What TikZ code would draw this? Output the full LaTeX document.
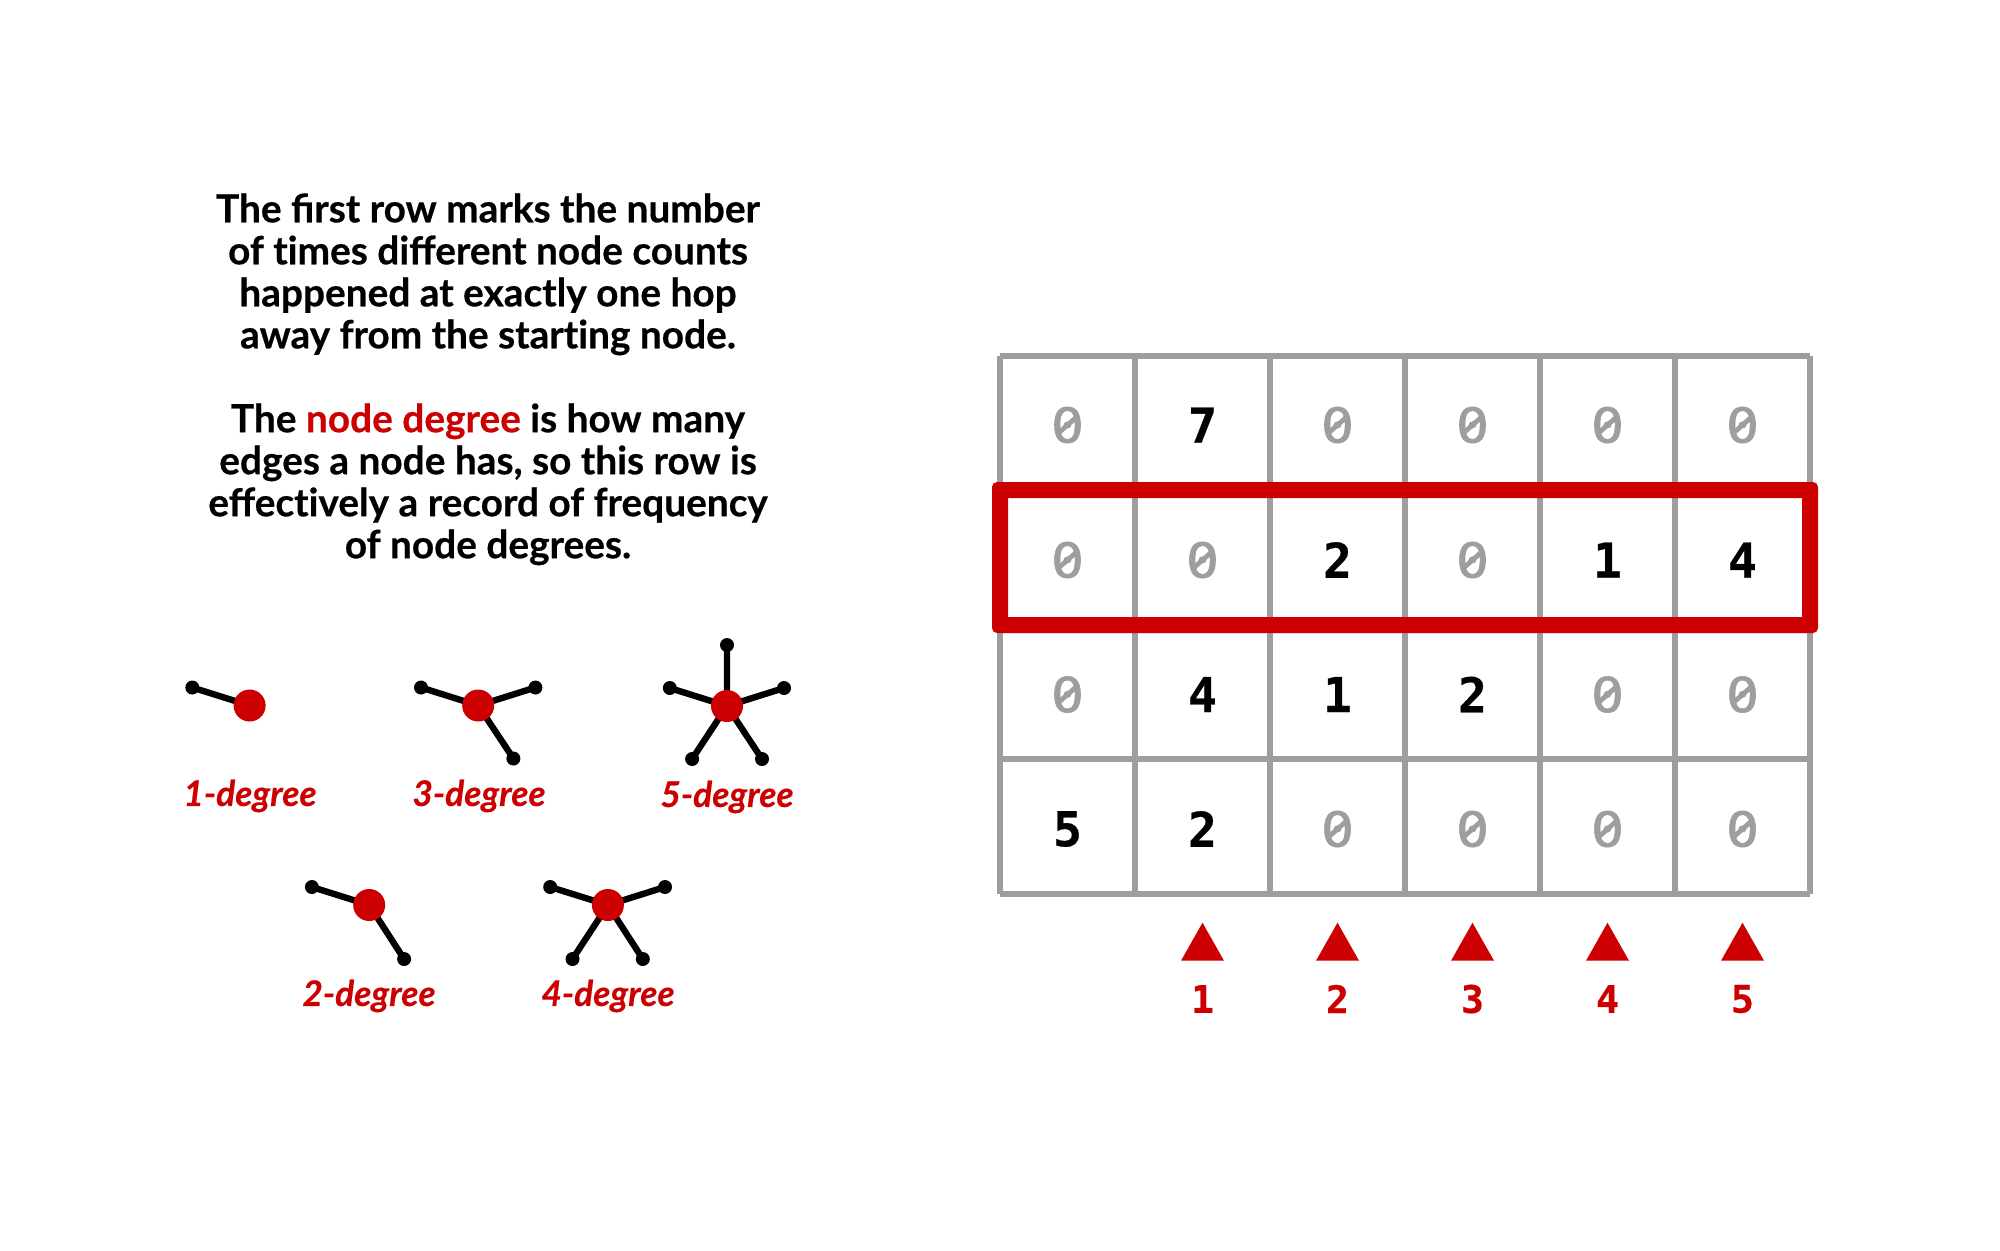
\documentclass[tikz,border=0pt]{standalone}
\usepackage{fontspec}
\setmainfont{Lato}[BoldFeatures={FakeBold=0.5},BoldItalicFeatures={FakeBold=0.3}]
\newfontfamily\digitfont{DejaVu Sans Mono}[BoldFeatures={FakeBold=0.6}]
\newfontfamily\zerofont{DejaVu Sans Mono}[FakeBold=1.2,FakeStretch=1.15]
\definecolor{accent}{HTML}{CC0000}
\definecolor{gridgrey}{HTML}{9E9E9E}
\tikzset{
  x=0.5pt,y=-0.5pt,
  para/.style={anchor=north,align=center,inner sep=0pt,font=\fontsize{19.4}{21}\selectfont\bfseries,text=black},
  hub/.style={circle,fill=accent,minimum size=16pt,inner sep=0pt},
  leaf/.style={circle,fill=black,minimum size=7pt,inner sep=0pt},
  spoke/.style={line width=3.2pt,black},
  deg/.style={font=\fontsize{17.65}{21}\selectfont\bfseries\itshape,text=accent,inner sep=0pt},
  gridline/.style={line width=3pt,gridgrey},
  zero/.style={font=\fontsize{24}{24}\selectfont\zerofont,text=gridgrey,inner sep=0pt},
  zeroslash/.style={line width=2.4pt,gridgrey},
  val/.style={font=\fontsize{24}{24}\selectfont\digitfont\bfseries,text=black,inner sep=0pt},
  axisnum/.style={font=\fontsize{19}{19}\selectfont\digitfont\bfseries,text=accent,inner sep=0pt},
  tri/.style={fill=accent},
}
\newcommand{\nt}{t\kern0pt i}
\begin{document}
\begin{tikzpicture}
\useasboundingbox (0,0) rectangle (2000,1250);
\fill[white] (0,0) rectangle (2000,1250);
\node[para] (p1) at (488,193) {The first row marks the number\\of \nt mes different node counts\\happened at exactly one hop\\away from the star\nt ng node.};
\node[para] (p2) at (488,403) {The {\color{accent}node degree} is how many\\edges a node has, so this row is\\effec\nt vely a record of frequency\\of node degrees.};
% 1-degree
\node[leaf] (a1) at (192.3,687.5) {};
\coordinate (a) at (249.6,705.5);
\draw[spoke] (a1.center) -- (a);
\node[hub] (ah) at (a) {};
\node[deg] (la) at (250,796) {1-degree};
% 3-degree
\node[leaf] (b1) at (421,687.5) {};
\node[leaf] (b2) at (535.4,687.5) {};
\node[leaf] (b3) at (513.4,758.5) {};
\coordinate (b) at (478.2,705.5);
\draw[spoke] (b1.center) -- (b) (b2.center) -- (b) (b3.center) -- (b);
\node[hub] (bh) at (b) {};
\node[deg] (lb) at (479,796) {3-degree};
% 5-degree
\node[leaf] (c1) at (669.8,688) {};
\node[leaf] (c2) at (784,688) {};
\node[leaf] (c3) at (692.1,759) {};
\node[leaf] (c4) at (762,759) {};
\node[leaf] (c5) at (727,645) {};
\coordinate (c) at (727,706);
\draw[spoke] (c1.center) -- (c) (c2.center) -- (c) (c3.center) -- (c) (c4.center) -- (c) (c5.center) -- (c);
\node[hub] (ch) at (c) {};
\node[deg] (lc) at (727,797) {5-degree};
% 2-degree
\node[leaf] (d1) at (311.9,887) {};
\node[leaf] (d2) at (404.1,959) {};
\coordinate (d) at (369.2,905);
\draw[spoke] (d1.center) -- (d) (d2.center) -- (d);
\node[hub] (dh) at (d) {};
\node[deg] (ld) at (369,996) {2-degree};
% 4-degree
\node[leaf] (e1) at (550.2,887) {};
\node[leaf] (e2) at (665,887) {};
\node[leaf] (e3) at (572.5,959) {};
\node[leaf] (e4) at (642.8,959) {};
\coordinate (e) at (607.9,905);
\draw[spoke] (e1.center) -- (e) (e2.center) -- (e) (e3.center) -- (e) (e4.center) -- (e);
\node[hub] (eh) at (e) {};
\node[deg] (le) at (608,996) {4-degree};
% grid
\foreach \i in {0,...,6} \draw[gridline,line cap=square] ({1000+135*\i},355.5) -- ({1000+135*\i},894);
\foreach \j in {0,...,4} \draw[gridline,line cap=square] (1000,{355.5+134.6*\j}) -- (1810,{355.5+134.6*\j});
% values
\foreach \row/\yy in {{0,7,0,0,0,0}/425,{0,0,2,0,1,4}/560,{0,4,1,2,0,0}/694.5,{5,2,0,0,0,0}/829}{
  \foreach \v [count=\c from 0] in \row {
    \ifnum\v=0
      \node[zero] (z\c) at ({1067.5+135*\c},\yy) {0};
      \draw[zeroslash] ([shift={(-9,8)}]z\c.center) -- ([shift={(9,-8)}]z\c.center);
    \else \node[val] at ({1067.5+135*\c},\yy) {\v};\fi
  }
}
\fill[accent,even odd rule,rounded corners=2.5pt] (992,482) rectangle (1818,633) [sharp corners] (1008,498) rectangle (1802,617);
% axis
\foreach \n in {1,...,5}{
  \path[tri] ({1067.5+135*\n-21.5},960.7) -- ({1067.5+135*\n},922.7) -- ({1067.5+135*\n+21.5},960.7) -- cycle;
  \node[axisnum] (n\n) at ({1067.5+135*\n},999) {\n};
}
\end{tikzpicture}
\end{document}
